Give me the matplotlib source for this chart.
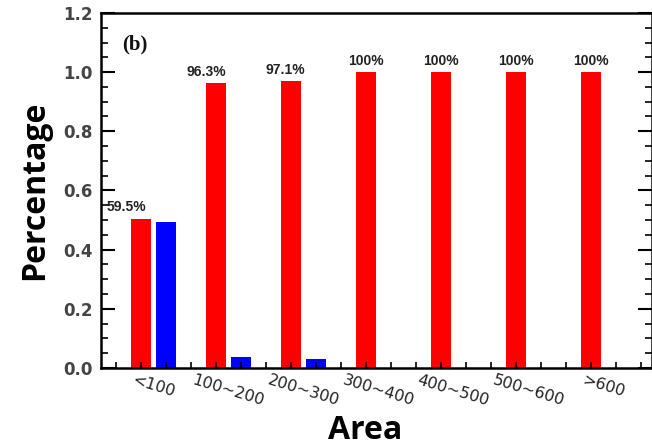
import numpy as np
import matplotlib
matplotlib.use("Agg")
import matplotlib.pyplot as plt
from matplotlib.ticker import MultipleLocator

areas = ['<100', '100~200', '200~300', '300~400', '400~500', '500~600', '>600']
red_vals = [0.505, 0.963, 0.971, 1.0, 1.0, 1.0, 1.0]
blue_vals = [0.495, 0.037, 0.029, 0.0, 0.0, 0.0, 0.0]
bar_labels = ['59.5%', '96.3%', '97.1%', '100%', '100%', '100%', '100%']
label_shift = [-0.19, -0.13, -0.08, 0, 0, 0, 0]

fig = plt.figure(figsize=(6.52, 4.46), dpi=100)
ax = fig.add_axes([0.155, 0.175, 0.845, 0.796])

x = np.arange(len(areas))
w = 0.267
ax.bar(x - 1/6, red_vals, width=w, color='#ff0000')
ax.bar(x + 1/6, blue_vals, width=w, color='#0000ff')

# percentage labels above red bars
for xi, v, lab, dx in zip(x, red_vals, bar_labels, label_shift):
    ax.annotate(lab, (xi - 1/6 + dx, v), xytext=(0, 3), textcoords='offset points',
                ha='center', va='bottom', fontsize=10, fontweight='bold',
                family='Liberation Sans', color='#222222')

ax.text(0.038, 0.91, '(b)', transform=ax.transAxes, fontsize=15, fontweight='bold',
        family='Liberation Serif', va='center', ha='left', color='#111111')

ax.set_xlim(-0.7, 6.65)
ax.set_ylim(0, 1.2)
ax.yaxis.set_minor_locator(MultipleLocator(0.05))
ax.set_yticks(np.arange(0, 1.21, 0.2))
ax.set_yticklabels(['%.1f' % t for t in np.arange(0, 1.21, 0.2)],
                   family='DejaVu Sans', fontweight='bold', fontsize=12, color='#444444')

ax.set_xticks(x)
ax.set_xticklabels(areas, rotation=-17, family='DejaVu Sans', fontsize=11.5,
                   color='#222222', ha='center')
ax.set_xticks(np.arange(-0.5, 6.7, 1/3), minor=True)
ax.tick_params(axis='x', which='major', length=0, pad=3)
ax.tick_params(axis='x', which='minor', direction='in', length=4, width=1.2)
ax.tick_params(axis='y', which='major', direction='in', length=10, width=1.5,
               right=True, pad=6)
ax.tick_params(axis='y', which='minor', direction='in', length=5, width=1.2, right=True)

for s in ax.spines.values():
    s.set_linewidth(1.8)

ax.set_ylabel('Percentage', family='Open Sans', fontweight='bold', fontsize=23, labelpad=9)
ax.set_xlabel('Area', family='Open Sans', fontweight='bold', fontsize=23, labelpad=2)
ax.xaxis.set_label_coords(0.48, -0.13)

fig.savefig('out.png', dpi=100)
